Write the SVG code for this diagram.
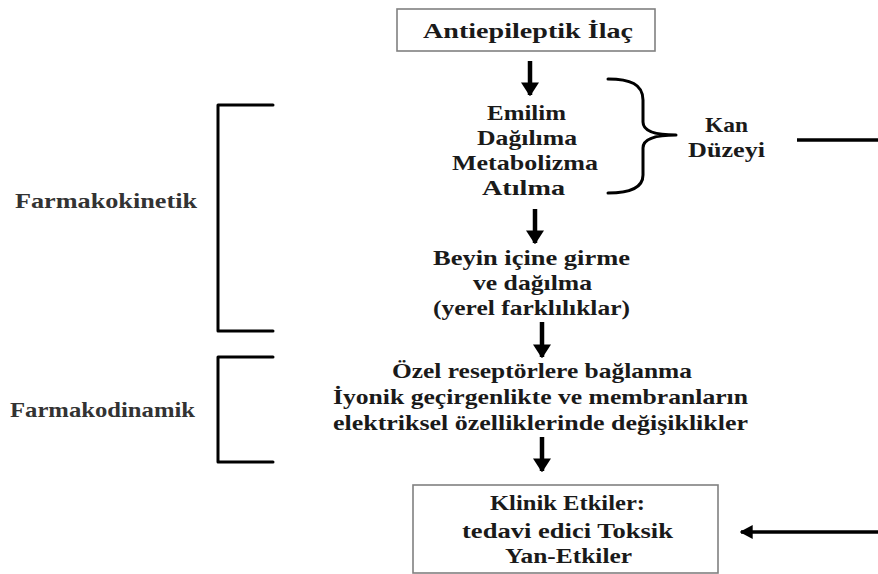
<svg xmlns="http://www.w3.org/2000/svg" width="878" height="574" viewBox="0 0 878 574">
<defs>
<style>
.t{font-family:"Liberation Serif","Times New Roman",serif;font-weight:bold;font-size:21px;fill:#1a1a1a}
.side{fill:#333}
.box{fill:#fff;stroke:#808080;stroke-width:1.6}
.ln{fill:none;stroke:#000;stroke-width:3;stroke-linecap:round;stroke-linejoin:round}
.shaft{fill:none;stroke:#000;stroke-width:4.5}
.thin{fill:none;stroke:#000;stroke-width:3.5}
</style>
<marker id="ah" viewBox="0 0 10 10" refX="9" refY="5" markerWidth="14" markerHeight="18" orient="auto" markerUnits="userSpaceOnUse" preserveAspectRatio="none">
<path d="M0,0 L10,5 L0,10 Z" fill="#000"/>
</marker>
<marker id="ahs" viewBox="0 0 10 10" refX="9" refY="5" markerWidth="13" markerHeight="14" orient="auto" markerUnits="userSpaceOnUse" preserveAspectRatio="none">
<path d="M0,0 L10,5 L0,10 Z" fill="#000"/>
</marker>
</defs>
<rect width="878" height="574" fill="#fff"/>

<g id="node-ilac">
<rect class="box" x="397" y="9" width="258" height="42"/>
<text class="t" x="423" y="38" textLength="210" lengthAdjust="spacingAndGlyphs">Antiepileptik İlaç</text>
</g>

<g id="node-absorption">
<text class="t" x="487" y="120" textLength="79" lengthAdjust="spacingAndGlyphs">Emilim</text>
<text class="t" x="477" y="145" textLength="100" lengthAdjust="spacingAndGlyphs">Dağılıma</text>
<text class="t" x="452" y="170" textLength="146" lengthAdjust="spacingAndGlyphs">Metabolizma</text>
<text class="t" x="482" y="195" textLength="83" lengthAdjust="spacingAndGlyphs">Atılma</text>
</g>

<g id="node-kan">
<text class="t" x="705" y="132" textLength="43" lengthAdjust="spacingAndGlyphs">Kan</text>
<text class="t" x="688" y="157" textLength="77" lengthAdjust="spacingAndGlyphs">Düzeyi</text>
</g>

<g id="node-beyin">
<text class="t" x="433" y="265" textLength="197" lengthAdjust="spacingAndGlyphs">Beyin içine girme</text>
<text class="t" x="473" y="290" textLength="119" lengthAdjust="spacingAndGlyphs">ve dağılma</text>
<text class="t" x="433" y="315" textLength="197" lengthAdjust="spacingAndGlyphs">(yerel farklılıklar)</text>
</g>

<g id="node-reseptor">
<text class="t" x="392" y="378" textLength="300" lengthAdjust="spacingAndGlyphs">Özel reseptörlere bağlanma</text>
<text class="t" x="333" y="404" textLength="415" lengthAdjust="spacingAndGlyphs">İyonik geçirgenlikte ve membranların</text>
<text class="t" x="333" y="430" textLength="415" lengthAdjust="spacingAndGlyphs">elektriksel özelliklerinde değişiklikler</text>
</g>

<g id="node-klinik">
<rect class="box" x="413" y="485" width="305" height="88"/>
<text class="t" x="490" y="510" textLength="155" lengthAdjust="spacingAndGlyphs">Klinik Etkiler:</text>
<text class="t" x="462" y="538" textLength="211" lengthAdjust="spacingAndGlyphs">tedavi edici Toksik</text>
<text class="t" x="505" y="563" textLength="127" lengthAdjust="spacingAndGlyphs">Yan-Etkiler</text>
</g>

<g id="node-farmakokinetik">
<text class="t side" x="15" y="208" textLength="182" lengthAdjust="spacingAndGlyphs">Farmakokinetik</text>
</g>

<g id="node-farmakodinamik">
<text class="t side" x="10" y="417" textLength="185" lengthAdjust="spacingAndGlyphs">Farmakodinamik</text>
</g>

<g id="connectors">
<line class="shaft" x1="530" y1="61" x2="530" y2="95" marker-end="url(#ah)"/>
<line class="shaft" x1="535" y1="209" x2="535" y2="243" marker-end="url(#ah)"/>
<line class="shaft" x1="542" y1="322" x2="542" y2="357" marker-end="url(#ah)"/>
<line class="shaft" x1="542" y1="437" x2="542" y2="471" marker-end="url(#ah)"/>
<path class="ln" d="M608,79 C630,79 643,84 643,100 L643,122 C643,130 652,135 676,135 C652,135 643,140 643,148 L643,175 C643,188 630,193 608,193"/>
<path class="ln" d="M273,105 L218,105 L218,331 L273,331"/>
<path class="ln" d="M273,357 L218,357 L218,462 L273,462"/>
<line class="thin" x1="797" y1="140" x2="878" y2="140"/>
<line class="thin" x1="878" y1="532" x2="741" y2="532" marker-end="url(#ahs)"/>
</g>
</svg>
